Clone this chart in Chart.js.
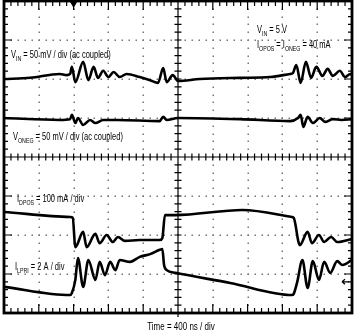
<!DOCTYPE html>
<html>
<head>
<meta charset="utf-8">
<script src="https://cdn.jsdelivr.net/npm/chart.js@4"></script>
<style>
  html, body { margin: 0; padding: 0; background: #fff; }
  canvas { display: block; }
</style>
</head>
<body>
<canvas id="scope" width="355" height="332"></canvas>
<script>
// time in ns (400 ns/div), amplitude in screen divisions (0 = bottom, 8 = top)
const vinT = [0, 300, 640, 720, 760, 780, 820, 910, 970, 1030, 1080, 1140, 1200, 1260, 1330, 1410, 1560, 1680, 1770, 1830, 1870, 1940, 2000, 2250, 2710, 3060, 3290, 3320, 3360, 3410, 3470, 3530, 3590, 3660, 3720, 3780, 3860, 3920, 3980, 4000];
const vinY = [6.00, 6.03, 6.13, 6.10, 6.13, 6.31, 5.92, 6.44, 5.97, 6.31, 6.03, 6.21, 6.05, 6.18, 6.05, 6.13, 6.05, 5.97, 5.90, 6.28, 5.92, 6.10, 5.95, 6.00, 6.03, 6.05, 6.13, 6.15, 6.36, 5.90, 6.44, 6.03, 6.31, 6.08, 6.26, 6.08, 6.21, 6.05, 6.13, 6.10];

const vonegT = [0, 640, 760, 780, 820, 850, 910, 990, 1050, 1140, 1300, 1790, 1830, 1870, 2000, 2710, 3290, 3380, 3410, 3440, 3490, 3550, 3630, 3690, 3780, 3880, 4000];
const vonegY = [5.00, 4.95, 4.97, 5.08, 4.87, 5.00, 4.82, 4.95, 4.87, 4.95, 4.95, 4.92, 5.03, 4.95, 5.00, 4.97, 4.92, 5.00, 5.08, 4.77, 5.03, 4.87, 5.00, 4.90, 4.97, 4.95, 4.97];

const idposT = [0, 760, 790, 820, 910, 950, 1050, 1100, 1180, 1250, 1310, 1390, 1560, 1790, 1820, 1850, 1970, 2740, 3310, 3330, 3400, 3490, 3540, 3620, 3680, 3760, 3830, 4000];
const idposY = [2.59, 2.46, 2.44, 1.69, 2.08, 1.69, 2.03, 1.79, 2.00, 1.82, 1.95, 1.85, 1.87, 1.87, 1.92, 2.51, 2.51, 2.64, 2.46, 2.44, 1.74, 2.08, 1.79, 2.00, 1.82, 1.95, 1.82, 1.90];

const ilpriT = [0, 760, 780, 820, 850, 910, 970, 1050, 1100, 1160, 1220, 1280, 1330, 1450, 1560, 1680, 1790, 1820, 1840, 1870, 1970, 2600, 3310, 3330, 3370, 3430, 3490, 3550, 3620, 3680, 3750, 3830, 3890, 4000];
const ilpriY = [0.67, 0.46, 0.51, 0.85, 1.41, 0.67, 1.36, 0.85, 1.31, 0.97, 1.31, 1.10, 1.36, 1.31, 1.44, 1.51, 1.62, 1.64, 1.23, 1.10, 1.03, 0.77, 0.46, 0.49, 0.79, 1.36, 0.64, 1.33, 0.85, 1.31, 1.03, 1.33, 1.23, 1.36];

const nsPerDiv = 400;
const xDivs = 10;
const yDivs = 8;

// on-screen labels: [segments, x, baseline]; segments with a 1 are subscripts
const labels = [
  [[['V'], ['IN', 1], [' = 50 mV / div (ac coupled)']], 11, 58],
  [[['V'], ['ONEG', 1], [' = 50 mV / div (ac coupled)']], 13, 140],
  [[['V'], ['IN', 1], [' = 5 V']], 257, 33],
  [[['I'], ['OPOS', 1], [' = I'], ['ONEG', 1], [' = 40 mA']], 257, 48],
  [[['I'], ['DPOS', 1], [' = 100 mA / div']], 17, 202],
  [[['I'], ['LPRI', 1], [' = 2 A / div']], 15, 270]
];
const xTitle = 'Time = 400 ns / div';

const pts = (t, y) => t.map((v, i) => ({ x: v, y: y[i] }));
const trace = (t, y) => ({
  data: pts(t, y),
  borderColor: '#000',
  borderWidth: 2.6,
  pointRadius: 0,
  cubicInterpolationMode: 'monotone'
});

const FONT = '"Liberation Sans", Arial, sans-serif';
const SQ = 0.75; // narrow look

function drawLabel(ctx, segs, x, y) {
  ctx.save();
  ctx.translate(x, y);
  ctx.scale(SQ, 1);
  let cx = 0;
  segs.forEach(s => {
    const sub = s[1];
    ctx.font = (sub ? '7px ' : '10px ') + FONT;
    ctx.fillText(s[0], cx, sub ? 2.5 : 0);
    cx += ctx.measureText(s[0]).width;
  });
  ctx.restore();
}

const screen = {
  id: 'screen',
  beforeDatasetsDraw(chart) {
    const ctx = chart.ctx;
    const sx = chart.scales.x, sy = chart.scales.y;
    const L = sx.getPixelForValue(0), R = sx.getPixelForValue(xDivs * nsPerDiv);
    const T = sy.getPixelForValue(yDivs), B = sy.getPixelForValue(0);
    const cxp = sx.getPixelForValue(xDivs / 2 * nsPerDiv);
    const cyp = sy.getPixelForValue(yDivs / 2);
    ctx.save();
    // dotted graticule
    ctx.fillStyle = '#777';
    for (let i = 1; i < xDivs; i++) {
      if (i === xDivs / 2) continue;
      const px = Math.round(sx.getPixelForValue(i * nsPerDiv));
      for (let j = 1; j < yDivs * 5; j++) {
        const py = Math.round(sy.getPixelForValue(j / 5));
        ctx.fillRect(px - 0.5, py - 0.5, 1.5, 1.5);
      }
    }
    for (let j = 1; j < yDivs; j++) {
      if (j === yDivs / 2) continue;
      const py = Math.round(sy.getPixelForValue(j));
      for (let i = 1; i < xDivs * 5; i++) {
        const px = Math.round(sx.getPixelForValue(i * nsPerDiv / 5));
        ctx.fillRect(px - 0.5, py - 0.5, 1.5, 1.5);
      }
    }
    // centre cross with minor ticks
    ctx.strokeStyle = '#000';
    ctx.lineWidth = 1.2;
    ctx.beginPath();
    ctx.moveTo(L, cyp); ctx.lineTo(R, cyp);
    ctx.moveTo(cxp, T); ctx.lineTo(cxp, B);
    for (let i = 1; i < xDivs * 5; i++) {
      const px = sx.getPixelForValue(i * nsPerDiv / 5);
      ctx.moveTo(px, cyp - 3.5); ctx.lineTo(px, cyp + 3.5);
      const big = i % 5 === 0;
      ctx.moveTo(px, T); ctx.lineTo(px, T + (big ? 9 : 5));
      ctx.moveTo(px, B); ctx.lineTo(px, B - (big ? 9 : 5));
    }
    for (let j = 1; j < yDivs * 5; j++) {
      const py = sy.getPixelForValue(j / 5);
      ctx.moveTo(cxp - 3.5, py); ctx.lineTo(cxp + 3.5, py);
      const big = j % 5 === 0;
      ctx.moveTo(L, py); ctx.lineTo(L + (big ? 8 : 4), py);
      ctx.moveTo(R, py); ctx.lineTo(R - (big ? 8 : 4), py);
    }
    // centre marker crossing the bottom edge
    ctx.moveTo(cxp, B - 10); ctx.lineTo(cxp, B + 4);
    ctx.stroke();
    // frame
    ctx.lineWidth = 2.8;
    ctx.strokeRect(L, T, R - L, B - T);
    ctx.restore();
  },
  afterDatasetsDraw(chart) {
    const ctx = chart.ctx;
    const sx = chart.scales.x, sy = chart.scales.y;
    ctx.save();
    ctx.fillStyle = '#000';
    ctx.textBaseline = 'alphabetic';
    labels.forEach(l => drawLabel(ctx, l[0], l[1], l[2]));
    // trigger position marker and trigger level arrow
    const tx = sx.getPixelForValue(800);
    ctx.beginPath();
    ctx.moveTo(tx - 3.5, 2); ctx.lineTo(tx + 3.5, 2); ctx.lineTo(tx, 8); ctx.closePath();
    ctx.fill();
    const R = sx.getPixelForValue(xDivs * nsPerDiv);
    const ly = sy.getPixelForValue(0.8);
    ctx.lineWidth = 1.2;
    ctx.beginPath();
    ctx.moveTo(R - 10, ly); ctx.lineTo(R - 3, ly);
    ctx.moveTo(R - 10, ly); ctx.lineTo(R - 7, ly - 2.5);
    ctx.moveTo(R - 10, ly); ctx.lineTo(R - 7, ly + 2.5);
    ctx.stroke();
    // x caption
    ctx.save();
    ctx.translate(sx.getPixelForValue(2000) + 3, 330);
    ctx.scale(0.8, 1);
    ctx.font = '10px ' + FONT;
    ctx.textAlign = 'center';
    ctx.fillText(xTitle, 0, 0);
    ctx.restore();
    ctx.restore();
  }
};

new Chart(document.getElementById('scope'), {
  type: 'line',
  data: {
    datasets: [
      trace(vinT, vinY),
      trace(vonegT, vonegY),
      trace(idposT, idposY),
      trace(ilpriT, ilpriY)
    ]
  },
  options: {
    responsive: false,
    devicePixelRatio: 1,
    animation: false,
    layout: { padding: { left: 4, right: 3, top: 1, bottom: 19 } },
    plugins: { legend: { display: false }, tooltip: { enabled: false } },
    scales: {
      x: { type: 'linear', min: 0, max: xDivs * nsPerDiv, display: false },
      y: { type: 'linear', min: 0, max: yDivs, display: false }
    }
  },
  plugins: [screen]
});
</script>
</body>
</html>
